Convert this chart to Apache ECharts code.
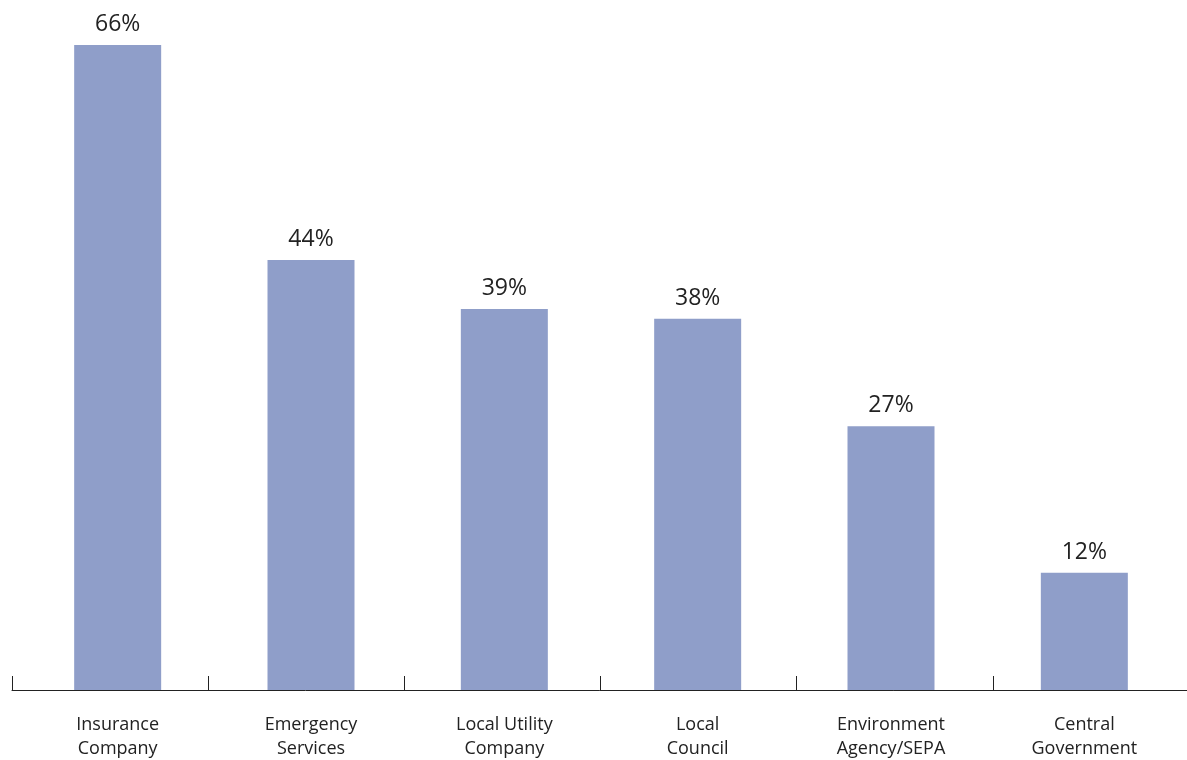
<!DOCTYPE html>
<html>
<head>
<meta charset="utf-8">
<script src="https://cdn.jsdelivr.net/npm/echarts@6/dist/echarts.min.js"></script>
<style>
  html, body { margin: 0; padding: 0; background: #fff; }
  #chart { width: 1187px; height: 760px; }
</style>
</head>
<body>
<div id="chart"></div>
<script>
const categories = [
  'Insurance\nCompany',
  'Emergency\nServices',
  'Local Utility\nCompany',
  'Local\nCouncil',
  'Environment\nAgency/SEPA',
  'Central\nGovernment'
]
const values = [66, 44, 39, 38, 27, 12]

const chart = echarts.init(document.getElementById('chart'))

chart.setOption({
  animation: false,
  textStyle: { fontFamily: 'Open Sans' },
  grid: [
    // bars
    { left: 21, right: 6, top: 6, bottom: 70, outerBoundsMode: 'none', containLabel: false },
    // axis line and ticks only
    { left: 12, right: -2, top: 6, bottom: 70, outerBoundsMode: 'none', containLabel: false }
  ],
  xAxis: [
    {
      type: 'category',
      gridIndex: 0,
      data: categories,
      axisLine: { show: false },
      axisTick: { show: false },
      axisLabel: {
        color: '#222',
        fontSize: 18,
        lineHeight: 24,
        margin: 23,
        interval: 0
      }
    },
    {
      type: 'category',
      gridIndex: 1,
      data: categories,
      axisLine: { show: true, lineStyle: { color: '#222', width: 1 } },
      axisTick: { show: true, length: 14, inside: true, alignWithLabel: false, interval: 0, lineStyle: { color: '#222' } },
      axisLabel: { show: false }
    }
  ],
  yAxis: [
    { type: 'value', gridIndex: 0, min: 0, max: 70, show: false },
    { type: 'value', gridIndex: 1, min: 0, max: 70, show: false }
  ],
  series: [
    {
      type: 'bar',
      xAxisIndex: 0,
      yAxisIndex: 0,
      data: values,
      barWidth: 87,
      itemStyle: { color: '#8f9ec9' },
      label: {
        show: true,
        position: 'top',
        distance: 9,
        color: '#222',
        fontSize: 23,
        formatter: p => p.value + '%'
      }
    }
  ]
})
</script>
</body>
</html>
